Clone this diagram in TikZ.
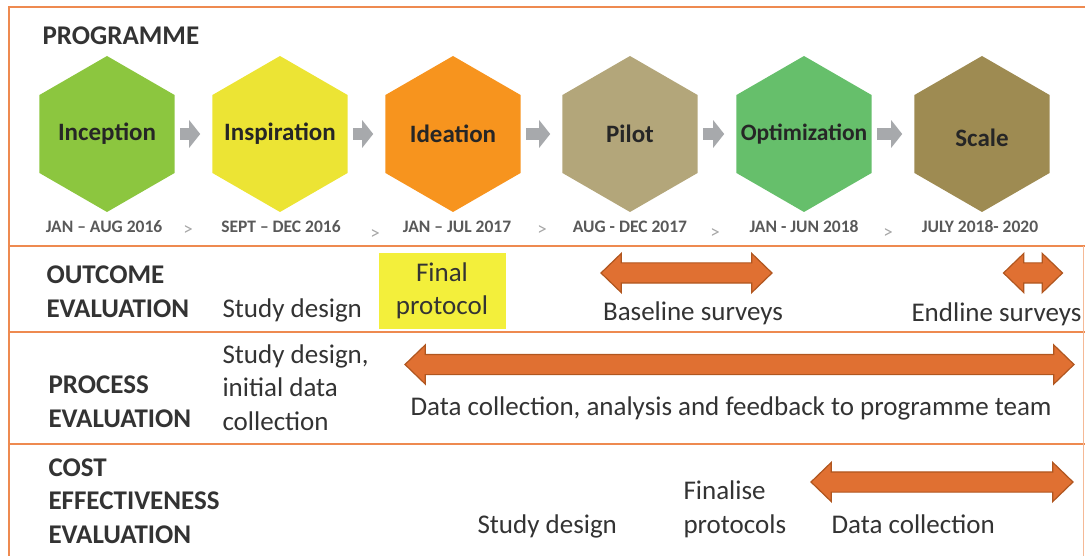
\documentclass[tikz,border=0pt]{standalone}
\usepackage{fontspec}
\setmainfont{Carlito}
\usepackage{tikz}
\usetikzlibrary{arrows.meta, shapes.geometric, shapes.arrows}

\definecolor{frameline}{HTML}{EE8A50}
\definecolor{inception}{HTML}{8CC63F}
\definecolor{inspiration}{HTML}{ECE434}
\definecolor{ideation}{HTML}{F7941E}
\definecolor{pilot}{HTML}{B3A67A}
\definecolor{optim}{HTML}{66BF6B}
\definecolor{scalecol}{HTML}{9E8B52}
\definecolor{stepgray}{HTML}{A7A9AC}
\definecolor{spanfill}{HTML}{E07032}
\definecolor{spanedge}{HTML}{B0561F}
\definecolor{protoyellow}{HTML}{F3EF3B}
\definecolor{textgray}{HTML}{333333}

\tikzset{
  hex/.style={regular polygon, regular polygon sides=6, shape border rotate=30, minimum size=156pt, inner sep=0pt},
  hextxt/.style={font=\bfseries\fontsize{25}{30}\selectfont, text=black!85},
  datetxt/.style={anchor=base, font=\bfseries\fontsize{17.5}{20}\selectfont, text=black!65},
  chev/.style={font=\fontsize{19}{22}\selectfont, text=black!35},
  head/.style={anchor=base west, align=left, font=\bfseries\fontsize{27}{33.5}\selectfont, text=textgray},
  txt/.style={anchor=base west, align=left, font=\fontsize{27}{33.5}\selectfont, text=textgray},
  span/.style={double arrow, double arrow head extend=9.5pt, double arrow tip angle=88, minimum width=38pt, inner xsep=0pt, inner ysep=9.5pt, fill=spanfill, draw=spanedge, line width=1.2pt},
  stepline/.style={line width=12pt, draw=stepgray, -{Triangle[length=11pt, width=27pt]}, shorten <=5pt, shorten >=12pt},
  protobox/.style={fill=protoyellow, minimum width=127pt, minimum height=76pt, align=center, font=\fontsize{27}{33}\selectfont, text=textgray},
}

\begin{document}
\begin{tikzpicture}[x=1pt, y=-1pt]
    \useasboundingbox (0,0) rectangle (1085,556);

    \draw[frameline, line width=1.5pt] (1085,7) -- (9,7) -- (9,556);
    \draw[frameline, line width=1.5pt] (9,246) -- (1085,246);
    \draw[frameline, line width=1.5pt] (9,332) -- (1085,332);
    \draw[frameline, line width=1.5pt] (9,444) -- (1085,444);
    \draw[frameline!60, line width=1pt] (1083,246) -- (1083,556);

    \node[head] at (39, 45)   (prog) {PROGRAMME};

    \node[hex, fill=inception]   at (107, 134)   (p1) {};
    \node[hex, fill=inspiration] at (280, 134)   (p2) {};
    \node[hex, fill=ideation]    at (453, 134)   (p3) {};
    \node[hex, fill=pilot]       at (630, 134)   (p4) {};
    \node[hex, fill=optim]       at (804, 134)   (p5) {};
    \node[hex, fill=scalecol]    at (982, 134)   (p6) {};

    \node[hextxt] at (p1)   (t1) {Inception};
    \node[hextxt] at (p2)   (t2) {Inspiration};
    \node[hextxt] at (p3)   (t3) {Ideation};
    \node[hextxt] at (p4)   (t4) {Pilot};
    \node[hextxt, font=\bfseries\fontsize{23.5}{28}\selectfont] at (p5)   (t5) {Optimization};
    \node[hextxt] at (982, 138)   (t6) {Scale};

    \draw[stepline] (p1) -- (p2);
    \draw[stepline] (p2) -- (p3);
    \draw[stepline] (p3) -- (p4);
    \draw[stepline] (p4) -- (p5);
    \draw[stepline] (p5) -- (p6);

    \node[datetxt] at (104, 233)   (d1) {JAN – AUG 2016};
    \node[datetxt] at (281, 233)   (d2) {SEPT – DEC 2016};
    \node[datetxt] at (457, 233)   (d3) {JAN – JUL 2017};
    \node[datetxt] at (630, 233)   (d4) {AUG - DEC 2017};
    \node[datetxt] at (804, 233)   (d5) {JAN - JUN 2018};
    \node[datetxt] at (980, 233)   (d6) {JULY 2018- 2020};

    \node[chev] at (188, 231)   (c1) {>};
    \node[chev] at (375, 235)   (c2) {>};
    \node[chev] at (542, 231)   (c3) {>};
    \node[chev] at (715, 234)   (c4) {>};
    \node[chev] at (888, 234)   (c5) {>};

    \node[head] at (43, 317)   (oe) {OUTCOME\\EVALUATION};
    \node[txt] at (219, 317)   (os) {Study design};
    \node[protobox] at (442, 291)   (fp) {Final\\protocol};
    \node[span, minimum height=171pt] at (686.5, 273)   (ba) {};
    \node[txt, anchor=base] at (693, 320)   (bs) {Baseline surveys};
    \node[span, minimum height=59pt] at (1033, 273)   (ea) {};
    \node[txt] at (908, 322)   (es) {Endline surveys};

    \node[head] at (45, 427)   (pe) {PROCESS\\EVALUATION};
    \node[txt] at (219, 430)   (ps) {Study design,\\initial data\\collection};
    \node[span, minimum height=669pt] at (739.5, 364.5)   (da) {};
    \node[txt] at (407, 415)   (dc) {Data collection, analysis and feedback to programme team};

    \node[head] at (45, 543)   (ce) {COST\\EFFECTIVENESS\\EVALUATION};
    \node[txt] at (474, 533)   (cs) {Study design};
    \node[txt] at (680, 533)   (cf) {Finalise\\protocols};
    \node[span, minimum height=262pt] at (942, 482)   (ca) {};
    \node[txt] at (828, 533)   (cd) {Data collection};
\end{tikzpicture}
\end{document}
